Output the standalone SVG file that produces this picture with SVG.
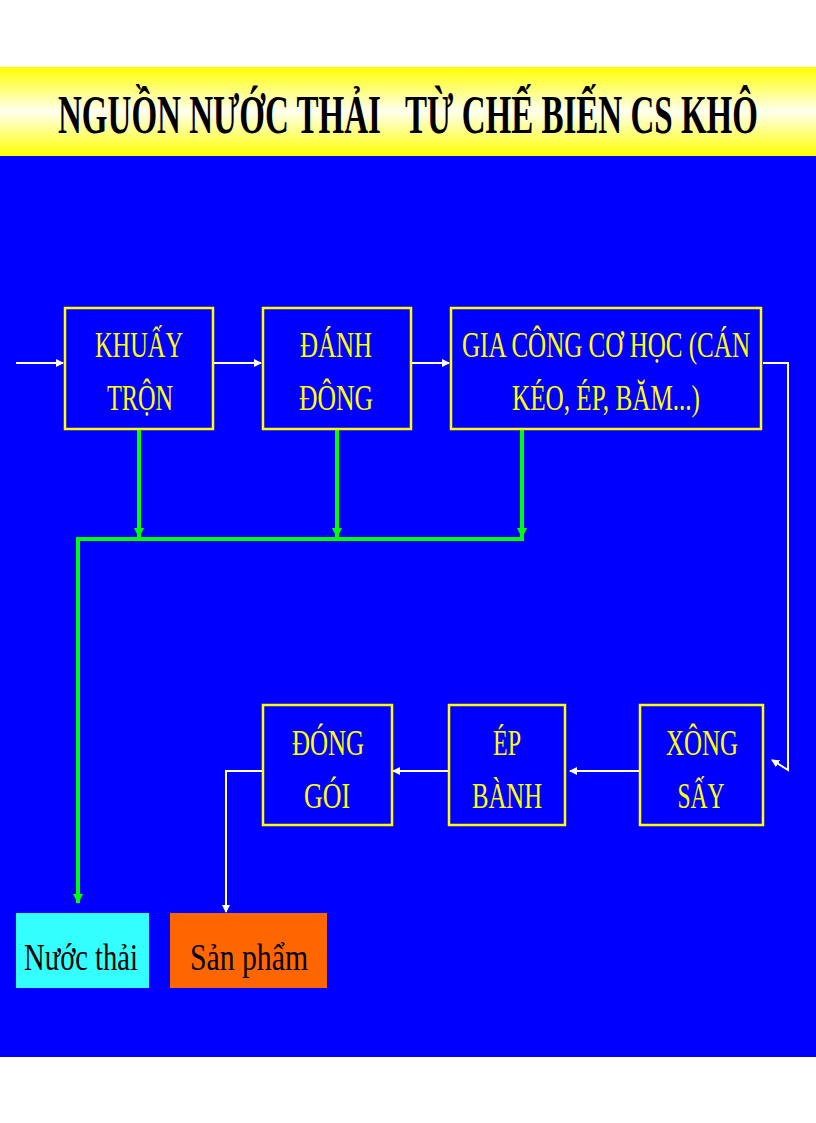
<svg xmlns="http://www.w3.org/2000/svg" width="816" height="1123" viewBox="0 0 816 1123">
<defs>
<linearGradient id="tg" x1="0" y1="0" x2="0" y2="1">
<stop offset="0" stop-color="#ffff00"/><stop offset="0.5" stop-color="#fffff0"/><stop offset="1" stop-color="#ffff00"/>
</linearGradient>
<marker id="aw" markerWidth="8" markerHeight="8" refX="7" refY="4" orient="auto" markerUnits="userSpaceOnUse"><path d="M0,0 L8,4 L0,8 Z" fill="#fff"/></marker>
<marker id="ag" markerWidth="10" markerHeight="10" refX="9" refY="5" orient="auto" markerUnits="userSpaceOnUse"><path d="M0,0 L10,5 L0,10 Z" fill="#00ff00"/></marker>
<style>
.box{fill:#0000ff;stroke:#ffff00;stroke-width:2.5}
.t{font-family:"Liberation Serif",serif;font-size:36px;fill:#ffff00;text-anchor:middle}
.b{font-family:"Liberation Serif",serif;font-size:38px;fill:#000;text-anchor:middle}
.w{stroke:#fff;stroke-width:2;fill:none}
.g{stroke:#00ff00;stroke-width:4;fill:none}
</style>
</defs>
<rect width="816" height="1123" fill="#fff"/>
<rect x="0" y="67" width="816" height="89" fill="url(#tg)"/>
<text x="408" y="133" xml:space="preserve" font-family="Liberation Serif,serif" font-weight="bold" font-size="54" text-anchor="middle" textLength="700" lengthAdjust="spacingAndGlyphs" fill="#000">NGUỒN NƯỚC THẢI   TỪ CHẾ BIẾN CS KHÔ</text>
<rect x="0" y="156" width="816" height="901" fill="#0000ff"/>
<g id="connectors">
<line class="w" x1="16" y1="363" x2="63" y2="363" marker-end="url(#aw)"/>
<line class="w" x1="214" y1="363" x2="261" y2="363" marker-end="url(#aw)"/>
<line class="w" x1="412" y1="363" x2="449" y2="363" marker-end="url(#aw)"/>
<polyline class="w" points="763,363 788,363 788,770 772,760" marker-end="url(#aw)"/>
<line class="w" x1="639" y1="771" x2="570" y2="771" marker-end="url(#aw)"/>
<line class="w" x1="448" y1="771" x2="393" y2="771" marker-end="url(#aw)"/>
<polyline class="w" points="262,771 226,771 226,912" marker-end="url(#aw)"/>
<line class="g" x1="139" y1="430" x2="139" y2="537" marker-end="url(#ag)"/>
<line class="g" x1="337" y1="430" x2="337" y2="537" marker-end="url(#ag)"/>
<line class="g" x1="522" y1="430" x2="522" y2="537" marker-end="url(#ag)"/>
<polyline class="g" points="524,539 78,539 78,903" marker-end="url(#ag)"/>
</g>
<g id="khuay"><rect class="box" x="65" y="308" width="148" height="121"/><text class="t" x="139" y="357" textLength="88" lengthAdjust="spacingAndGlyphs">KHUẤY</text><text class="t" x="140" y="410" textLength="66" lengthAdjust="spacingAndGlyphs">TRỘN</text></g>
<g id="danhdong"><rect class="box" x="263" y="308" width="148" height="121"/><text class="t" x="336" y="357" textLength="72" lengthAdjust="spacingAndGlyphs">ĐÁNH</text><text class="t" x="336" y="410" textLength="74" lengthAdjust="spacingAndGlyphs">ĐÔNG</text></g>
<g id="giacong"><rect class="box" x="451" y="308" width="310" height="121"/><text class="t" x="606" y="357" textLength="288" lengthAdjust="spacingAndGlyphs">GIA CÔNG CƠ HỌC (CÁN</text><text class="t" x="606" y="410" textLength="188" lengthAdjust="spacingAndGlyphs">KÉO, ÉP, BĂM...)</text></g>
<g id="xong"><rect class="box" x="640" y="705" width="123" height="120"/><text class="t" x="702" y="755" textLength="72" lengthAdjust="spacingAndGlyphs">XÔNG</text><text class="t" x="701" y="808" textLength="47" lengthAdjust="spacingAndGlyphs">SẤY</text></g>
<g id="ep"><rect class="box" x="449" y="705" width="116" height="120"/><text class="t" x="507" y="755" textLength="28" lengthAdjust="spacingAndGlyphs">ÉP</text><text class="t" x="507" y="808" textLength="70" lengthAdjust="spacingAndGlyphs">BÀNH</text></g>
<g id="donggoi"><rect class="box" x="263" y="705" width="129" height="120"/><text class="t" x="328" y="755" textLength="72" lengthAdjust="spacingAndGlyphs">ĐÓNG</text><text class="t" x="327" y="808" textLength="46" lengthAdjust="spacingAndGlyphs">GÓI</text></g>
<g id="nuocthai"><rect x="16" y="913" width="133" height="75" fill="#33ffff"/><text class="b" x="81" y="970" textLength="114" lengthAdjust="spacingAndGlyphs">Nước thải</text></g>
<g id="sanpham"><rect x="170" y="913" width="157" height="75" fill="#ff6600"/><text class="b" x="249" y="970" textLength="118" lengthAdjust="spacingAndGlyphs">Sản phẩm</text></g>
</svg>
